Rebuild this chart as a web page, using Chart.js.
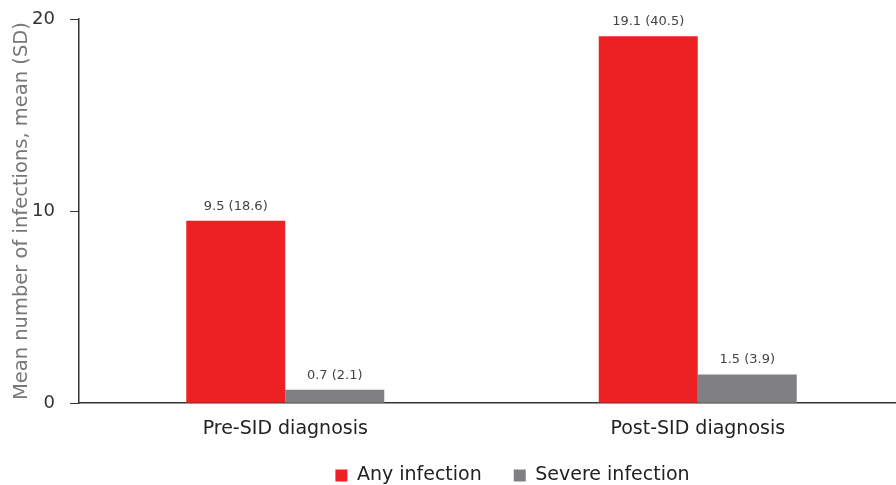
<!DOCTYPE html>
<html lang="en">
<head>
  <meta charset="UTF-8">
  <title>Mean number of infections</title>
  <script src="https://cdn.jsdelivr.net/npm/chart.js"></script>
  <style>
    html, body {
      margin: 0;
      padding: 0;
      background: #fff;
      overflow: hidden;
    }
    /* slightly larger than the window, edges are cropped like the original figure */
    #wrap {
      width: 904px;
      height: 507px;
    }
  </style>
</head>
<body>
  <div id="wrap"><canvas id="infChart"></canvas></div>

  <script>
    const categories = ['Pre-SID diagnosis', 'Post-SID diagnosis'];
    const anyInfection = [9.5, 19.1];
    const anyInfectionSD = [18.6, 40.5];
    const severeInfection = [0.7, 1.5];
    const severeInfectionSD = [2.1, 3.9];
    const yTicks = [0, 10, 20];

    const FONT = "'DejaVu Sans', Arial, sans-serif";

    // writes "mean (SD)" above each bar
    const barLabels = {
      id: 'barLabels',
      afterDatasetsDraw(chart) {
        const ctx = chart.ctx;
        ctx.save();
        ctx.font = '13px ' + FONT;
        ctx.fillStyle = '#444';
        ctx.textAlign = 'center';
        ctx.textBaseline = 'bottom';
        chart.data.datasets.forEach((ds, i) => {
          chart.getDatasetMeta(i).data.forEach((bar, j) => {
            const txt = ds.data[j].toFixed(1) + ' (' + ds.sd[j].toFixed(1) + ')';
            ctx.fillText(txt, bar.x, bar.y - 8);
          });
        });
        ctx.restore();
      }
    };

    // the legend in the figure sits a bit right of centre and close to the labels
    const legendShift = {
      id: 'legendShift',
      afterLayout(chart) {
        const lg = chart.legend;
        lg.left += 21;
        lg.right += 21;
        lg.top -= 12;
        lg.bottom -= 12;
      }
    };

    new Chart(document.getElementById('infChart'), {
      type: 'bar',
      data: {
        labels: categories,
        datasets: [
          {
            label: 'Any infection',
            data: anyInfection,
            sd: anyInfectionSD,
            backgroundColor: '#ed2024'
          },
          {
            label: 'Severe infection',
            data: severeInfection,
            sd: severeInfectionSD,
            backgroundColor: '#808083'
          }
        ]
      },
      options: {
        responsive: true,
        maintainAspectRatio: false,
        animation: false,
        categoryPercentage: 0.48,
        barPercentage: 1.0,
        layout: { padding: { top: 0, left: 0, right: 0, bottom: 0 } },
        plugins: {
          legend: {
            position: 'bottom',
            fullSize: false,
            labels: {
              boxWidth: 12,
              boxHeight: 12,
              padding: 32,
              color: '#222',
              font: { family: FONT, size: 19 }
            }
          },
          tooltip: { enabled: false }
        },
        scales: {
          x: {
            grid: { display: false },
            border: { color: '#333', width: 1.5 },
            ticks: {
              color: '#222',
              padding: 6,
              font: { family: FONT, size: 19 }
            }
          },
          y: {
            min: 0,
            max: 20,
            afterBuildTicks(axis) {
              axis.ticks = yTicks.map(v => ({ value: v }));
            },
            afterFit(axis) {
              axis.width = 79;
              axis.paddingTop = 19;
            },
            grid: {
              display: true,
              drawOnChartArea: false,
              drawTicks: true,
              tickLength: 9,
              color: '#333'
            },
            border: { color: '#333', width: 1.5 },
            ticks: {
              color: '#333',
              padding: 15,
              font: { family: FONT, size: 18 }
            },
            title: {
              display: true,
              text: 'Mean number of infections, mean (SD)',
              color: '#777',
              padding: { top: 10, bottom: 0 },
              font: { family: FONT, size: 19.5 }
            }
          }
        }
      },
      plugins: [barLabels, legendShift]
    });
  </script>
</body>
</html>
